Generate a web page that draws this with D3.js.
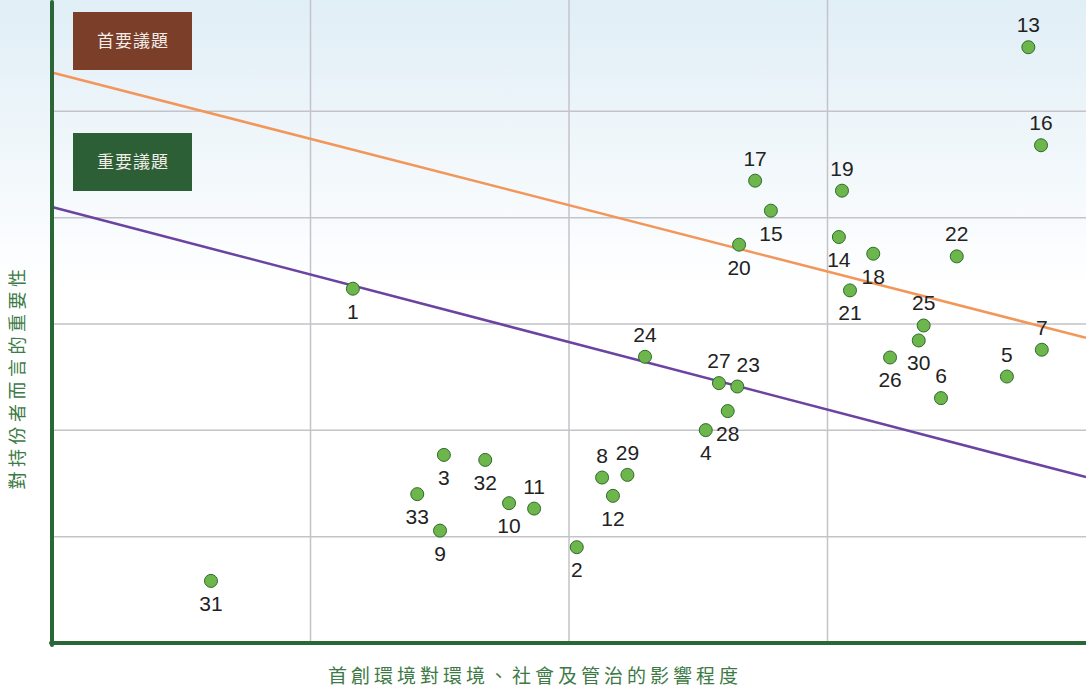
<!DOCTYPE html>
<html>
<head>
<meta charset="utf-8">
<script src="https://cdn.jsdelivr.net/npm/d3@7"></script>
<style>
  body { margin: 0; background: #fff; }
  svg { display: block; }
</style>
</head>
<body>
<div id="chart"></div>
<script>
// issue numbers and their scores (impact on ESG, importance to stakeholders)
const issueIds = [1, 2, 3, 4, 5, 6, 7, 8, 9, 10, 11, 12, 13, 14, 15, 16, 17,
  18, 19, 20, 21, 22, 23, 24, 25, 26, 27, 28, 29, 30, 31, 32, 33];
const impactScores = [1.164, 2.030, 1.516, 2.529, 3.694, 3.439, 3.829, 2.128, 1.501,
  1.768, 1.865, 2.170, 3.777, 3.044, 2.781, 3.826, 2.720, 3.177, 3.056, 2.658,
  3.087, 3.500, 2.651, 2.294, 3.372, 3.242, 2.580, 2.614, 2.226, 3.353, 0.615,
  1.676, 1.413];
const importanceScores = [3.332, 0.901, 1.769, 2.002, 2.506, 2.303, 2.758, 1.556, 1.057,
  1.315, 1.264, 1.384, 5.603, 3.818, 4.066, 4.681, 4.348, 3.661, 4.254, 3.746,
  3.316, 3.636, 2.412, 2.692, 2.986, 2.685, 2.444, 2.181, 1.581, 2.845, 0.584,
  1.722, 1.400];
// which side of the dot the number sits
const labelSide = ["b", "b", "b", "b", "a", "a", "a", "a", "b", "b", "a", "b", "a", "b",
  "b", "a", "a", "b", "a", "b", "b", "a", "a", "a", "a", "b", "a", "b", "a", "b",
  "b", "b", "b"];

// threshold lines: [value at x=0, value at x=4]
const primaryLine = [5.365, 2.87];
const importantLine = [4.10, 1.56];
const legendLabels = ["首要議題", "重要議題"];
const xTitle = "首創環境對環境、社會及管治的影響程度";
const yTitle = "對持份者而言的重要性";

const W = 1086, H = 688;
const margin = { top: 5, right: 0, bottom: 45, left: 52 };

const svg = d3.select("#chart").append("svg")
  .attr("width", W).attr("height", H);

const defs = svg.append("defs");
const grad = defs.append("linearGradient")
  .attr("id", "bg").attr("x1", 0).attr("y1", 0).attr("x2", 0).attr("y2", 1);
grad.append("stop").attr("offset", "0%").attr("stop-color", "#e0eef6");
grad.append("stop").attr("offset", "42%").attr("stop-color", "#ffffff");
grad.append("stop").attr("offset", "100%").attr("stop-color", "#ffffff");

svg.append("rect").attr("width", W).attr("height", H).attr("fill", "url(#bg)");

const x = d3.scaleLinear().domain([0, 4]).range([margin.left, W - margin.right]);
const y = d3.scaleLinear().domain([0, 6]).range([H - margin.bottom, margin.top]);

// grid
svg.append("g")
  .selectAll("line")
  .data([1, 2, 3])
  .join("line")
  .attr("x1", d => x(d)).attr("x2", d => x(d))
  .attr("y1", 0).attr("y2", y(0))
  .attr("stroke", "#c3c3c8").attr("stroke-width", 1.5);

svg.append("g")
  .selectAll("line")
  .data([1, 2, 3, 4, 5])
  .join("line")
  .attr("x1", x(0)).attr("x2", x(4))
  .attr("y1", d => y(d)).attr("y2", d => y(d))
  .attr("stroke", "#c3c3c8").attr("stroke-width", 1.5);

// threshold lines
svg.append("line")
  .attr("x1", x(0)).attr("y1", y(primaryLine[0]))
  .attr("x2", x(4)).attr("y2", y(primaryLine[1]))
  .attr("stroke", "#f39659").attr("stroke-width", 2.5);

svg.append("line")
  .attr("x1", x(0)).attr("y1", y(importantLine[0]))
  .attr("x2", x(4)).attr("y2", y(importantLine[1]))
  .attr("stroke", "#6b43a0").attr("stroke-width", 2.5);

// legend boxes
const boxes = [
  { text: legendLabels[0], fill: "#7a3e29", top: 12 },
  { text: legendLabels[1], fill: "#2c5f36", top: 133 }
];
const lg = svg.append("g").selectAll("g").data(boxes).join("g")
  .attr("transform", d => `translate(73,${d.top})`);
lg.append("rect").attr("width", 119).attr("height", 58).attr("fill", d => d.fill);
lg.append("text")
  .attr("x", 60).attr("y", 35)
  .attr("text-anchor", "middle")
  .attr("fill", "#f2ece8")
  .style("font-family", "'Noto Sans CJK TC', sans-serif")
  .style("font-size", "17px")
  .style("letter-spacing", "1px")
  .text(d => d.text);

// axes (brushy green strokes)
const axisColor = "#2b6637";
svg.append("line")
  .attr("x1", x(0)).attr("x2", x(0)).attr("y1", 2).attr("y2", y(0) + 2)
  .attr("stroke", axisColor).attr("stroke-width", 4).attr("stroke-linecap", "round");
svg.append("line")
  .attr("x1", x(0) - 1).attr("x2", W).attr("y1", y(0)).attr("y2", y(0))
  .attr("stroke", axisColor).attr("stroke-width", 4).attr("stroke-linecap", "round");

// points
const points = issueIds.map((id, i) => ({
  id, xv: impactScores[i], yv: importanceScores[i], side: labelSide[i]
}));

svg.append("g")
  .selectAll("circle")
  .data(points)
  .join("circle")
  .attr("cx", d => x(d.xv))
  .attr("cy", d => y(d.yv))
  .attr("r", 6.5)
  .attr("fill", "#6cb64c")
  .attr("stroke", "#2f6a2c")
  .attr("stroke-width", 1);

svg.append("g")
  .selectAll("text")
  .data(points)
  .join("text")
  .attr("x", d => x(d.xv) + (d.id === 23 ? 11 : 0))
  .attr("y", d => y(d.yv) + (d.side === "a" ? -15 : 30))
  .attr("text-anchor", "middle")
  .style("font-family", "'Liberation Sans', Arial, sans-serif")
  .style("font-size", "21px")
  .attr("fill", "#222")
  .text(d => d.id);

// axis titles
svg.append("text")
  .attr("x", 535).attr("y", 683)
  .attr("text-anchor", "middle")
  .attr("fill", "#3d7a45")
  .style("font-family", "'Noto Sans CJK TC', sans-serif")
  .style("font-size", "19px")
  .style("letter-spacing", "4px")
  .text(xTitle);

svg.append("text")
  .attr("transform", "translate(24,377) rotate(-90)")
  .attr("text-anchor", "middle")
  .attr("fill", "#3d7a45")
  .style("font-family", "'Noto Sans CJK TC', sans-serif")
  .style("font-size", "18px")
  .style("letter-spacing", "4.5px")
  .text(yTitle);
</script>
</body>
</html>
